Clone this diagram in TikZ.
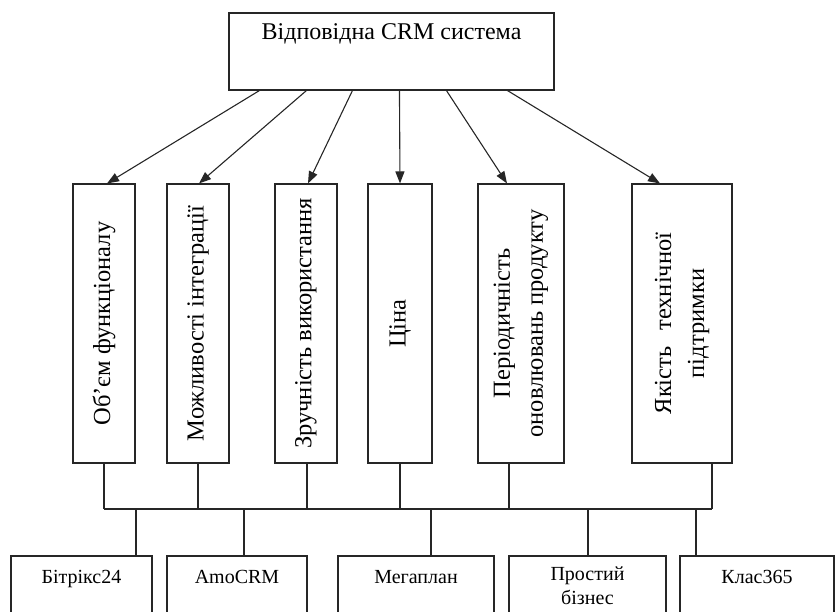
\documentclass[tikz,border=0pt]{standalone}
\usepackage{fontspec}
\setmainfont{Liberation Serif}
\usetikzlibrary{arrows.meta}
\usetikzlibrary{calc}

\begin{document}
\begin{tikzpicture}[x=1pt, y=1pt, line width=1.1pt, draw=black!85,
    crit/.style={draw, rotate=90, inner sep=0pt, minimum width=279pt, align=center, font=\fontsize{24.5}{33}\selectfont},
    sys/.style={draw, inner sep=0pt, text height=28pt, text depth=60pt, anchor=base, align=center, font=\fontsize{20}{24}\selectfont}]

        \def\midy{288.5}

        \useasboundingbox (0,0) rectangle (835,612);
        \clip (0,0) rectangle (835,612);

        \node[draw, inner sep=0pt, minimum width=325pt, text height=27pt, text depth=50pt, anchor=base, font=\fontsize{24}{28}\selectfont] (crm) at (391.5,572) {Відповідна CRM система};

        \node[crit, minimum height=62pt] (obsyag) at (104,\midy) {Об’єм функціоналу};
        \node[crit, minimum height=62pt] (intehr) at (198,\midy) {Можливості інтеграції};
        \node[crit, minimum height=62pt] (zruchn) at (306,\midy) {Зручність використання};
        \node[crit, minimum height=64pt] (tsina) at (400,\midy) {Ціна};
        \node[crit, minimum height=86pt] (onovl) at (521,\midy) {Періодичність\\оновлювань продукту};
        \node[crit, minimum height=100pt] (pidtr) at (682,\midy) {Якість\hspace{0.4em} технічної\\підтримки\hspace{0.4em}};

        \node[sys, minimum width=141pt] (bitriks) at (81.5,28) {Бітрікс24};
        \node[sys, minimum width=140pt] (amocrm) at (237,28) {AmoCRM};
        \node[sys, minimum width=156pt] (megaplan) at (416,28) {Мегаплан};
        \node[sys, minimum width=157pt, text height=49pt, text depth=40pt] (prostyi) at (587.5,7) {Простий\\бізнес};
        \node[sys, minimum width=154pt] (klas) at (757,28) {Клас365};

        \foreach \dx/\n/\ex in {31/obsyag/3, 78/intehr/1, 124/zruchn/2, 171/tsina/0, 218/onovl/-14, 279/pidtr/-22}
          \draw[-{Triangle[length=12pt,width=9pt]}] ($(crm.south west)+(\dx,0)$) -- ($(\n.east)+(\ex,0)$);

        \coordinate (bus) at (0,103);
        \foreach \n/\dx in {obsyag/0, intehr/0, zruchn/1, tsina/0, onovl/-12, pidtr/30}
          \draw ($(\n.west)+(\dx,0)$) coordinate (d\n) -- (d\n |- bus);
        \draw (dobsyag |- bus) -- (dpidtr |- bus);

        \foreach \n/\dx in {bitriks/54.5, amocrm/7, megaplan/15, prostyi/0.5, klas/-61}
          \draw ($(\n.north)+(\dx,0)$) coordinate (u\n) -- (u\n |- bus);

      \end{tikzpicture}
\end{document}
